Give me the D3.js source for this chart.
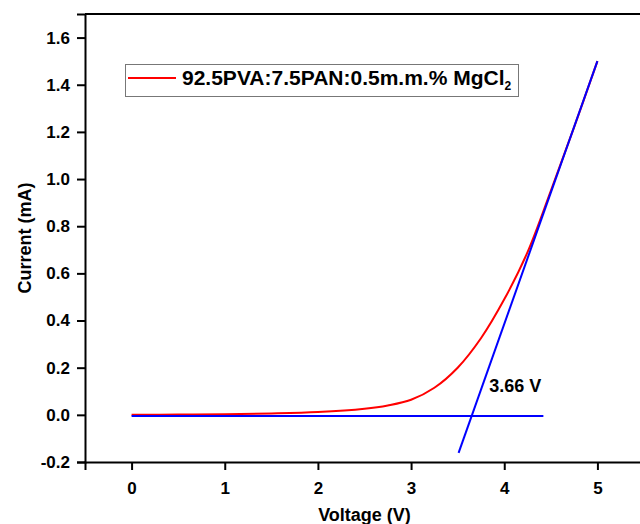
<!DOCTYPE html>
<html>
<head>
<meta charset="utf-8">
<script src="https://cdn.jsdelivr.net/npm/d3@7"></script>
<style>
    body { margin: 0; background: #fff; }
    text { font-family: "Liberation Sans", Arial, sans-serif; font-weight: bold; }
</style>
</head>
<body>
<div id="chart"></div>
<script>
// measured I-V curve
var voltage = [0, 0.5, 1.0, 1.5, 2.0, 2.5, 2.75, 3.0, 3.25, 3.5, 3.75, 4.0, 4.25, 4.5, 4.75, 5.0];
var current = [0, 0.001, 0.003, 0.006, 0.012, 0.026, 0.04, 0.064, 0.115, 0.2, 0.325, 0.49, 0.69, 0.95, 1.22, 1.5];

// fitted lines (tangent and baseline)
var tangent_v = [3.51, 5.0];
var tangent_i = [-0.161, 1.5];
var base_v = [0, 4.42];
var base_i = [-0.005, -0.005];

var x_ticks = [0, 1, 2, 3, 4, 5];
var y_ticks = [-0.2, 0.0, 0.2, 0.4, 0.6, 0.8, 1.0, 1.2, 1.4, 1.6];

var series_name = "92.5PVA:7.5PAN:0.5m.m.% MgCl";
var threshold_label = "3.66 V";
var threshold_pos = [3.84, 0.097];

var width = 640, height = 524;
var margin = { top: 14, right: -4, bottom: 62, left: 85 };

var svg = d3.select("#chart")
    .append("svg")
    .attr("width", width)
    .attr("height", height);

var x = d3.scaleLinear()
    .domain([-0.5, 5.5])
    .range([margin.left, width - margin.right]);

var y = d3.scaleLinear()
    .domain([-0.2, 1.7])
    .range([height - margin.bottom, margin.top]);

// frame (top spine)
svg.append("line")
    .attr("x1", x(-0.5)).attr("x2", x(5.5))
    .attr("y1", y(1.7)).attr("y2", y(1.7))
    .attr("stroke", "#000").attr("stroke-width", 2);

// x axis
var x_axis = svg.append("g")
    .attr("transform", "translate(0," + y(-0.2) + ")")
    .call(d3.axisBottom(x).tickValues(x_ticks).tickSize(8).tickPadding(8).tickFormat(d3.format("d")));

// y axis, hyphen minus like the original
var y_axis = svg.append("g")
    .attr("transform", "translate(" + x(-0.5) + ",0)")
    .call(d3.axisLeft(y).tickValues(y_ticks).tickSize(8).tickPadding(7)
        .tickFormat(function (d) { return d3.format(".1f")(d).replace("\u2212", "-"); }));

[x_axis, y_axis].forEach(function (g) {
    g.select(".domain").attr("stroke", "#000").attr("stroke-width", 2);
    g.selectAll(".tick line").attr("stroke", "#000").attr("stroke-width", 2);
    g.selectAll(".tick text")
        .attr("fill", "#000")
        .style("font-size", "17px")
        .style("font-family", "'Liberation Sans', Arial, sans-serif")
        .style("font-weight", "bold");
});
x_axis.selectAll(".tick text").attr("dy", "0.95em");

// axis titles
svg.append("text")
    .attr("x", (x(-0.5) + x(5.5)) / 2)
    .attr("y", 521)
    .attr("text-anchor", "middle")
    .style("font-size", "18px")
    .text("Voltage (V)");

svg.append("text")
    .attr("transform", "translate(31," + ((y(-0.2) + y(1.7)) / 2) + ") rotate(-90)")
    .attr("text-anchor", "middle")
    .style("font-size", "18px")
    .text("Current (mA)");

var line = d3.line()
    .x(function (d) { return x(d[0]); })
    .y(function (d) { return y(d[1]); });

// data curve
svg.append("path")
    .datum(d3.zip(voltage, current))
    .attr("d", line.curve(d3.curveCatmullRom))
    .attr("fill", "none")
    .attr("stroke", "#ff0000")
    .attr("stroke-width", 2);

line.curve(d3.curveLinear);

svg.append("path")
    .datum(d3.zip(base_v, base_i))
    .attr("d", line)
    .attr("fill", "none")
    .attr("stroke", "#0000ff")
    .attr("stroke-width", 2);

svg.append("path")
    .datum(d3.zip(tangent_v, tangent_i))
    .attr("d", line)
    .attr("fill", "none")
    .attr("stroke", "#0000ff")
    .attr("stroke-width", 2);

svg.append("text")
    .attr("x", x(threshold_pos[0]))
    .attr("y", y(threshold_pos[1]))
    .style("font-size", "18px")
    .text(threshold_label);

// legend
var legend = svg.append("g").attr("id", "legend");

legend.append("rect")
    .attr("x", 125.5).attr("y", 64.5)
    .attr("width", 393).attr("height", 32)
    .attr("fill", "#fff")
    .attr("stroke", "#777")
    .attr("stroke-width", 1);

legend.append("line")
    .attr("x1", 128).attr("x2", 176)
    .attr("y1", 78).attr("y2", 78)
    .attr("stroke", "#ff0000").attr("stroke-width", 2);

var lt = legend.append("text")
    .attr("x", 182).attr("y", 85)
    .style("font-size", "21px")
    .text(series_name);
lt.append("tspan")
    .attr("dy", 5)
    .style("font-size", "12px")
    .text("2");
</script>
</body>
</html>
